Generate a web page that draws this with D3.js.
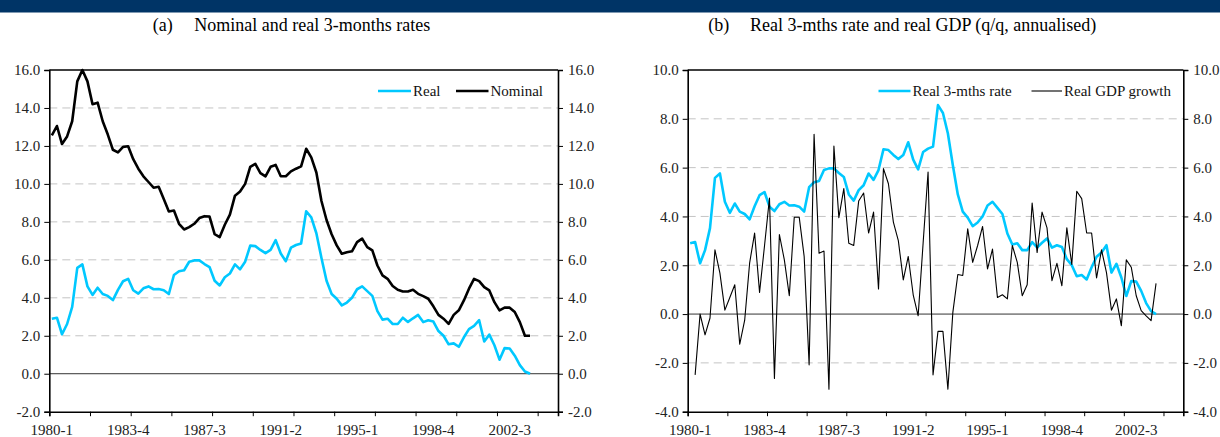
<!DOCTYPE html>
<html>
<head>
<meta charset="utf-8">
<script src="https://cdn.jsdelivr.net/npm/d3@7"></script>
<style>
  body { margin: 0; background: #fff; }
  svg { display: block; font-family: "Liberation Serif", "Times New Roman", serif; }
  .grid line { stroke: #c4c4c4; stroke-dasharray: 8 5; }
  .tick text { fill: #222; font-size: 15px; font-family: "Liberation Serif", "Times New Roman", serif; }
</style>
</head>
<body>
<div id="chart"></div>
<script>
// quarterly categories 1980-1 .. 2004-4 (axis runs a bit past the data)
const startYear = 1980;
const nCats = 100;
const quarters = d3.range(nCats).map(i => (startYear + Math.floor(i / 4)) + "-" + (i % 4 + 1));
const xLabels = ["1980-1", "1983-4", "1987-3", "1991-2", "1995-1", "1998-4", "2002-3"];
const xTickEvery = 8;

// (a) nominal and real 3-months rates, 1980-1 .. 2003-3
const real = [2.9, 2.95, 2.08, 2.62, 3.52, 5.58, 5.76, 4.6, 4.15, 4.53,
  4.2, 4.1, 3.88, 4.42, 4.87, 5.0, 4.4, 4.22, 4.5, 4.6,
  4.45, 4.46, 4.4, 4.2, 5.2, 5.4, 5.45, 5.9, 5.97, 5.97,
  5.78, 5.62, 4.9, 4.65, 5.08, 5.28, 5.76, 5.5, 5.9, 6.75,
  6.72, 6.52, 6.35, 6.52, 7.04, 6.33, 5.93, 6.64, 6.78, 6.86,
  8.56, 8.24, 7.4, 6.1, 4.9, 4.2, 3.95, 3.6, 3.75, 4.0,
  4.45, 4.6, 4.35, 4.1, 3.3, 2.85, 2.9, 2.62, 2.62, 2.95,
  2.73, 2.92, 3.1, 2.72, 2.82, 2.75, 2.25, 2.0, 1.55, 1.6,
  1.42, 1.92, 2.35, 2.52, 2.82, 1.7, 2.06, 1.5, 0.74, 1.35,
  1.33, 0.95, 0.45, 0.12, 0.0];
const nominal = [12.56, 13.05, 12.1, 12.5, 13.3, 15.4, 16.0, 15.4, 14.2, 14.28,
  13.3, 12.6, 11.8, 11.66, 11.95, 11.98, 11.3, 10.8, 10.4, 10.1,
  9.8, 9.85, 9.2, 8.55, 8.6, 7.9, 7.6, 7.72, 7.9, 8.2,
  8.3, 8.28, 7.35, 7.2, 7.85, 8.38, 9.38, 9.6, 10.0, 10.9,
  11.06, 10.57, 10.4, 10.9, 11.0, 10.4, 10.4, 10.66, 10.8, 10.92,
  11.85, 11.4, 10.6, 9.1, 8.1, 7.35, 6.76, 6.32, 6.4, 6.45,
  6.93, 7.12, 6.67, 6.5, 5.7, 5.18, 5.0, 4.62, 4.42, 4.33,
  4.33, 4.42, 4.21, 4.09, 3.95, 3.55, 3.1, 2.9, 2.63, 3.1,
  3.34, 3.86, 4.48, 5.0, 4.88, 4.56, 4.39, 3.77, 3.34, 3.48,
  3.48, 3.25, 2.72, 2.0, 2.0];
// (b) real GDP growth, q/q annualised (no value for 1980-1)
const gdp = [null, -2.49, 0.0, -0.85, -0.16, 2.63, 1.68, 0.16, 0.68, 1.2,
  -1.23, -0.25, 2.1, 3.32, 0.89, 2.8, 4.75, -2.64, 3.26, 2.22,
  0.75, 3.97, 3.97, 2.36, -2.08, 7.37, 2.49, 2.58, -3.08, 6.88,
  3.95, 5.14, 2.9, 2.81, 4.63, 4.96, 3.32, 4.18, 1.03, 5.96,
  5.34, 3.77, 3.01, 1.4, 2.36, 0.79, -0.07, 2.9, 5.82, -2.49,
  -0.71, -0.71, -3.08, 0.07, 1.62, 1.58, 3.49, 2.12, 2.81, 3.59,
  1.85, 2.66, 0.68, 0.79, 0.62, 2.81, 2.12, 0.75, 1.2, 4.55,
  2.52, 4.18, 3.53, 1.37, 2.08, 1.16, 3.53, 2.03, 5.03, 4.73,
  3.32, 3.32, 1.48, 2.63, 1.7, 0.16, 0.62, -0.48, 2.22, 1.92,
  0.75, 0.14, -0.07, -0.27, 1.26];

const panelA = { tag: "(a)", title: "Nominal and real 3-months rates", yMin: -2, yMax: 16,
  left: 49.3, right: 558, tagX: 152.7, titleX: 194.3,
  series: [
    { name: "Real", values: real, color: "#00c8ff", width: 2.6 },
    { name: "Nominal", values: nominal, color: "#000", width: 2.6 }
  ],
  legend: [{ x1: 378, x2: 411 }, { x1: 456, x2: 488.5 }] };
const panelB = { tag: "(b)", title: "Real 3-mths rate and real GDP (q/q, annualised)", yMin: -4, yMax: 10,
  left: 687.7, right: 1183.3, tagX: 708.3, titleX: 750,
  series: [
    { name: "Real 3-mths rate", values: real, color: "#00c8ff", width: 2.6 },
    { name: "Real GDP growth", values: gdp, color: "#000", width: 1.1 }
  ],
  legend: [{ x1: 878.5, x2: 910.5 }, { x1: 1031.5, x2: 1062 }] };

const W = 1220, H = 437, plotTop = 70, plotBottom = 411.7;

const svg = d3.select("#chart").append("svg")
  .attr("width", W).attr("height", H);

// header band
svg.append("rect").attr("x", 0).attr("y", 0).attr("width", W).attr("height", 12.5)
  .attr("fill", "#003466");

function drawPanel(p) {
  const g = svg.append("g");
  const x = d3.scaleBand().domain(quarters).range([p.left, p.right]).padding(0);
  const xi = d3.scaleLinear().domain([0, nCats]).range([p.left, p.right]);
  const y = d3.scaleLinear().domain([p.yMin, p.yMax]).range([plotBottom, plotTop]);
  const yTicks = d3.range(p.yMin, p.yMax + 0.001, 2);

  g.append("text").attr("x", p.tagX).attr("y", 31)
    .attr("font-size", 18).attr("fill", "#000").text(p.tag);
  g.append("text").attr("x", p.titleX).attr("y", 31)
    .attr("font-size", 18).attr("fill", "#000").text(p.title);

  // dashed gridlines
  g.append("g").attr("class", "grid")
    .selectAll("line").data(yTicks.filter(v => v !== 0 && v !== p.yMin && v !== p.yMax))
    .join("line")
    .attr("x1", p.left).attr("x2", p.right)
    .attr("y1", d => y(d)).attr("y2", d => y(d));

  // zero line
  g.append("line").attr("x1", p.left).attr("x2", p.right)
    .attr("y1", y(0)).attr("y2", y(0)).attr("stroke", "#333").attr("stroke-width", 1);

  // series
  const cx = i => x(quarters[i]) + x.bandwidth() / 2;
  p.series.forEach(s => {
    const line = d3.line()
      .defined(d => d != null)
      .x((d, i) => cx(i))
      .y(d => y(d));
    g.append("path").datum(s.values)
      .attr("fill", "none").attr("stroke", s.color)
      .attr("stroke-width", s.width).attr("stroke-linejoin", "round")
      .attr("d", line);
  });

  // frame top
  g.append("line").attr("x1", p.left).attr("x2", p.right)
    .attr("y1", plotTop).attr("y2", plotTop).attr("stroke", "#000").attr("stroke-width", 1.3);

  // y axes both sides
  const fmt = d => d.toFixed(1);
  const yl = g.append("g").attr("transform", `translate(${p.left},0)`)
    .call(d3.axisLeft(y).tickValues(yTicks).tickFormat(fmt).tickSize(5).tickPadding(4));
  const yr = g.append("g").attr("transform", `translate(${p.right},0)`)
    .call(d3.axisRight(y).tickValues(yTicks).tickFormat(fmt).tickSize(5).tickPadding(5));
  [yl, yr].forEach(a => {
    a.select(".domain").attr("stroke", "#000").attr("stroke-width", 1.6);
    a.selectAll(".tick line").attr("stroke", "#000");
  });

  // x axis: boundary tick marks every 8 quarters, labels every 15
  const xt = g.append("g").attr("transform", `translate(0,${plotBottom})`)
    .call(d3.axisBottom(xi).tickValues(d3.range(0, nCats, xTickEvery)).tickFormat("").tickSize(4.5));
  xt.select(".domain").attr("stroke", "#000").attr("stroke-width", 1.6);
  xt.selectAll(".tick line").attr("stroke", "#000");
  const xl = g.append("g").attr("transform", `translate(0,${plotBottom})`)
    .call(d3.axisBottom(x).tickValues(xLabels).tickSize(0).tickPadding(13));
  xl.select(".domain").remove();

  // legend
  p.series.forEach((s, k) => {
    const L = p.legend[k];
    g.append("line").attr("x1", L.x1).attr("x2", L.x2).attr("y1", 91).attr("y2", 91)
      .attr("stroke", s.color).attr("stroke-width", s.width);
    g.append("text").attr("x", L.x2 + 2).attr("y", 96)
      .attr("font-size", 15).attr("fill", "#111").text(s.name);
  });
}

drawPanel(panelA);
drawPanel(panelB);
</script>
</body>
</html>
